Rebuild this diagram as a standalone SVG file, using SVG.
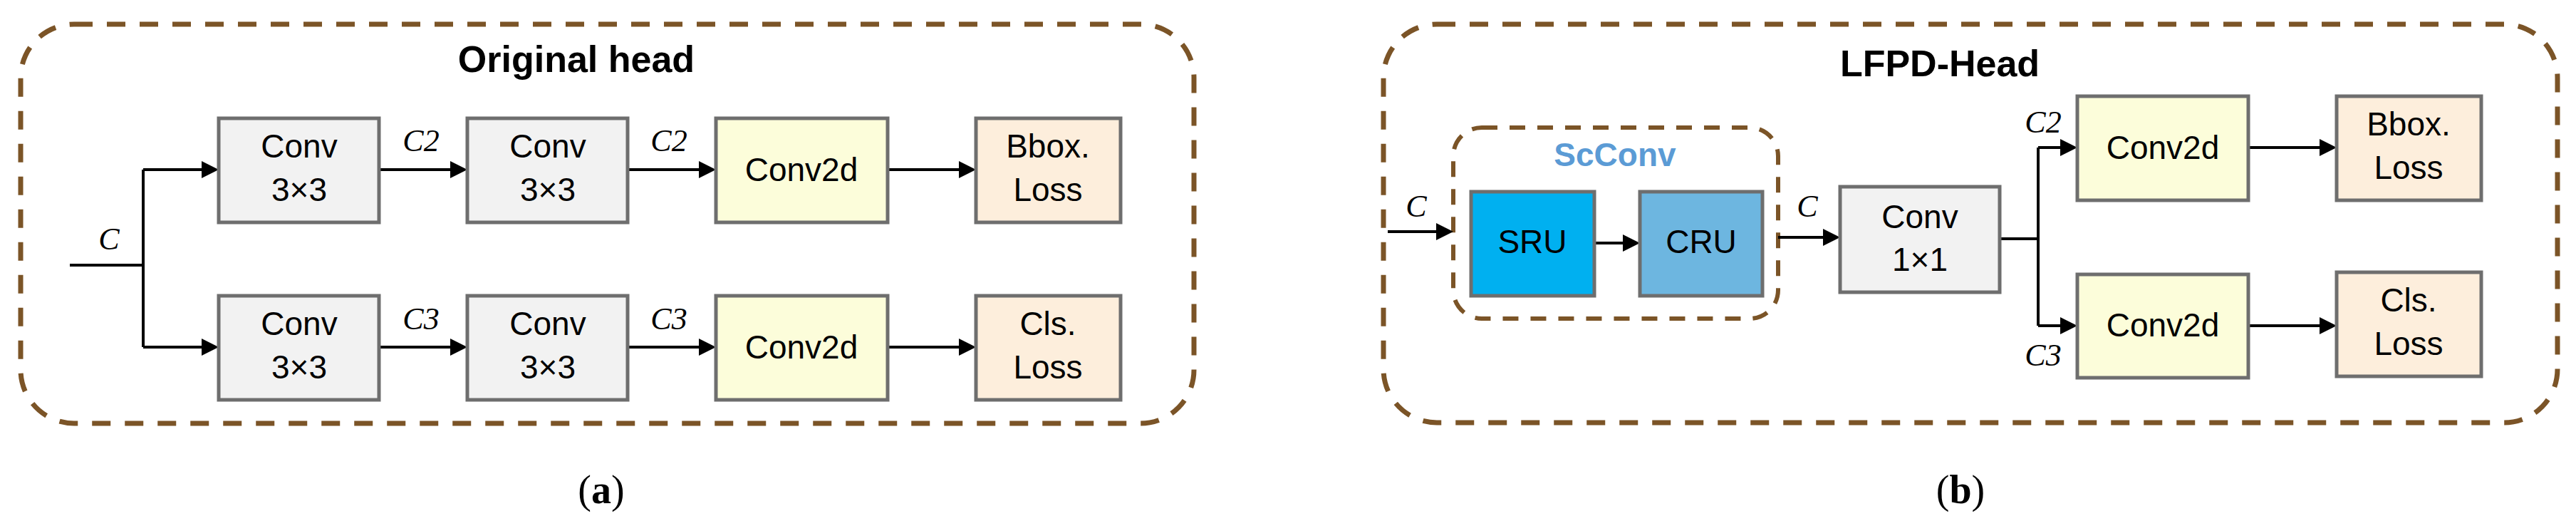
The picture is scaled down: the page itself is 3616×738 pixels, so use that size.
<svg xmlns="http://www.w3.org/2000/svg" width="3616" height="738" viewBox="0 0 3616 738">
<defs>
<marker id="ah" markerWidth="6" markerHeight="6" refX="5" refY="3" orient="auto" markerUnits="strokeWidth"><path d="M0,0 L6,3 L0,6 z" fill="#000"/></marker>
<style>
.frame{fill:none;stroke:#7B5427;stroke-width:7;stroke-dasharray:26 20}
.box{stroke:#6E6E6E;stroke-width:5}
.gray{fill:#F2F2F2}.yel{fill:#FCFDDA}.peach{fill:#FDEEDC}
.t{font-family:"Liberation Sans",Arial,sans-serif;font-size:46px;text-anchor:middle;fill:#000}
.title{font-family:"Liberation Sans",Arial,sans-serif;font-size:52px;font-weight:bold;text-anchor:middle}
.lab{font-family:"Liberation Serif",serif;font-style:italic;font-size:44px;text-anchor:middle}
.cap{font-family:"Liberation Serif",serif;font-size:56px;text-anchor:middle}
.ln{fill:none;stroke:#000;stroke-width:4}
</style>
</defs>
<rect class="frame" x="29" y="34" width="1647" height="560" rx="75"/>
<rect class="frame" x="1942" y="34" width="1648" height="559" rx="75"/>
<text class="title" x="809" y="101">Original head</text>
<text class="title" x="2723" y="107">LFPD-Head</text>
<g id="scconv"><rect x="2040" y="179" width="456" height="268" rx="40" fill="none" stroke="#7B5427" stroke-width="6" stroke-dasharray="22 17"/>
<text x="2267" y="233" font-family="Liberation Sans,Arial,sans-serif" font-size="46" font-weight="bold" fill="#5B9BD5" text-anchor="middle">ScConv</text></g>
<g id="connectors">
<path class="ln" d="M98,372 H201 M201,238 V487"/>
<path class="ln" marker-end="url(#ah)" d="M201,238 H303"/>
<path class="ln" marker-end="url(#ah)" d="M201,487 H303"/>
<path class="ln" marker-end="url(#ah)" d="M532,238 H652"/>
<path class="ln" marker-end="url(#ah)" d="M881,238 H1001"/>
<path class="ln" marker-end="url(#ah)" d="M1246,238 H1366"/>
<path class="ln" marker-end="url(#ah)" d="M532,487 H652"/>
<path class="ln" marker-end="url(#ah)" d="M881,487 H1001"/>
<path class="ln" marker-end="url(#ah)" d="M1246,487 H1366"/>
<path class="ln" marker-end="url(#ah)" d="M1948,325 H2036"/>
<path class="ln" marker-end="url(#ah)" d="M2238,341 H2298"/>
<path class="ln" marker-end="url(#ah)" d="M2496,333 H2579"/>
<path class="ln" d="M2807,335 H2861 M2861,207 V457"/>
<path class="ln" marker-end="url(#ah)" d="M2861,207 H2912"/>
<path class="ln" marker-end="url(#ah)" d="M2861,457 H2912"/>
<path class="ln" marker-end="url(#ah)" d="M3156,207 H3276"/>
<path class="ln" marker-end="url(#ah)" d="M3156,457 H3276"/>
<text class="lab" x="153" y="350">C</text>
<text class="lab" x="591" y="212">C2</text>
<text class="lab" x="939" y="212">C2</text>
<text class="lab" x="591" y="462">C3</text>
<text class="lab" x="939" y="462">C3</text>
<text class="lab" x="1988" y="304">C</text>
<text class="lab" x="2537" y="304">C</text>
<text class="lab" x="2868" y="186">C2</text>
<text class="lab" x="2868" y="513">C3</text>
</g>
<g id="a1"><rect class="box gray" x="307" y="166" width="225" height="146"/><text class="t" x="420" y="221">Conv</text><text class="t" x="420" y="282">3×3</text></g>
<g id="a2"><rect class="box gray" x="656" y="166" width="225" height="146"/><text class="t" x="769" y="221">Conv</text><text class="t" x="769" y="282">3×3</text></g>
<g id="a3"><rect class="box yel" x="1005" y="166" width="241" height="146"/><text class="t" x="1125" y="254">Conv2d</text></g>
<g id="a4"><rect class="box peach" x="1370" y="166" width="203" height="146"/><text class="t" x="1471" y="221">Bbox.</text><text class="t" x="1471" y="282">Loss</text></g>
<g id="a5"><rect class="box gray" x="307" y="415" width="225" height="146"/><text class="t" x="420" y="470">Conv</text><text class="t" x="420" y="531">3×3</text></g>
<g id="a6"><rect class="box gray" x="656" y="415" width="225" height="146"/><text class="t" x="769" y="470">Conv</text><text class="t" x="769" y="531">3×3</text></g>
<g id="a7"><rect class="box yel" x="1005" y="415" width="241" height="146"/><text class="t" x="1125" y="503">Conv2d</text></g>
<g id="a8"><rect class="box peach" x="1370" y="415" width="203" height="146"/><text class="t" x="1471" y="470">Cls.</text><text class="t" x="1471" y="531">Loss</text></g>
<g id="sru"><rect class="box" fill="#00B0F0" x="2065" y="269" width="173" height="146"/><text class="t" x="2151" y="355">SRU</text></g>
<g id="cru"><rect class="box" fill="#6DB6E0" x="2302" y="269" width="172" height="146"/><text class="t" x="2388" y="355">CRU</text></g>
<g id="b1"><rect class="box gray" x="2583" y="262" width="224" height="148"/><text class="t" x="2695" y="320">Conv</text><text class="t" x="2695" y="380">1×1</text></g>
<g id="b2"><rect class="box yel" x="2916" y="135" width="240" height="146"/><text class="t" x="3036" y="223">Conv2d</text></g>
<g id="b3"><rect class="box peach" x="3280" y="135" width="203" height="146"/><text class="t" x="3381" y="190">Bbox.</text><text class="t" x="3381" y="251">Loss</text></g>
<g id="b4"><rect class="box yel" x="2916" y="385" width="240" height="145"/><text class="t" x="3036" y="472">Conv2d</text></g>
<g id="b5"><rect class="box peach" x="3280" y="382" width="203" height="146"/><text class="t" x="3381" y="437">Cls.</text><text class="t" x="3381" y="498">Loss</text></g>
<text class="cap" x="844" y="706">(<tspan font-weight="bold">a</tspan>)</text>
<text class="cap" x="2752" y="706">(<tspan font-weight="bold">b</tspan>)</text>
</svg>
